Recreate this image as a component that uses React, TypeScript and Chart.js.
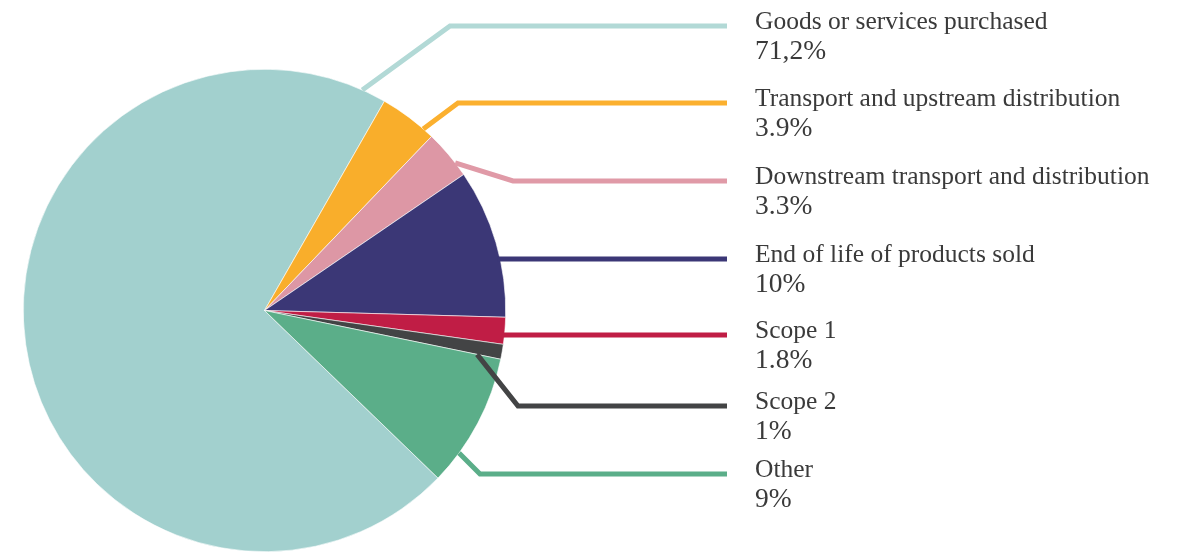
import React, { useEffect, useRef } from "react";
import { Chart, registerables } from "chart.js";

Chart.register(...registerables);

const CATEGORIES = [
  "Goods or services purchased",
  "Transport and upstream distribution",
  "Downstream transport and distribution",
  "End of life of products sold",
  "Scope 1",
  "Scope 2",
  "Other",
];
const VALUES = [71.2, 3.9, 3.3, 10, 1.8, 1, 9];
const VALUE_LABELS = ["71,2%", "3.9%", "3.3%", "10%", "1.8%", "1%", "9%"];
const COLORS = ["#a2d0ce", "#f9ae2b", "#dd97a5", "#3b3776", "#c01d45", "#434445", "#5bae89"];
const LINE_COLORS = ["#b2d9d6", "#fbb02f", "#e09aa7", "#3b3776", "#c01d45", "#434445", "#5bae89"];

// layout of leader lines / labels (pixels in canvas)
const LABEL_Y = [26, 103, 181, 259, 335, 406, 474];
const ELBOW_X: (number | null)[] = [450, 458, 513, null, null, 518, 480];
const START_FRAC = [0.977, 0.81, 0.71, 0.6, 0.5, 1.0, 0.76];
const START_RAD = [1.0, 1.0, 1.0, 1.0, 1.0, 0.9, 1.0];
const LINE_END_X = 727;
const TEXT_X = 755;

const leaderPlugin = {
  id: "leaders",
  afterDatasetsDraw(chart: any) {
    const ctx = chart.ctx as CanvasRenderingContext2D;
    const meta = chart.getDatasetMeta(0);
    ctx.save();
    meta.data.forEach((arc: any, i: number) => {
      const p = arc.getProps(["x", "y", "startAngle", "endAngle", "outerRadius"], true);
      const ly = LABEL_Y[i];
      let sx: number, sy: number;
      const ex = ELBOW_X[i];
      if (ex === null) {
        const dy = ly - p.y;
        sx = p.x + Math.sqrt(Math.max(p.outerRadius * p.outerRadius - dy * dy, 0)) - 3;
        sy = ly;
      } else {
        const a = p.startAngle + START_FRAC[i] * (p.endAngle - p.startAngle);
        const r = p.outerRadius * START_RAD[i];
        sx = p.x + Math.cos(a) * r;
        sy = p.y + Math.sin(a) * r;
      }
      ctx.beginPath();
      ctx.strokeStyle = LINE_COLORS[i];
      ctx.lineWidth = 5;
      ctx.lineJoin = "miter";
      ctx.lineCap = "butt";
      ctx.moveTo(sx, sy);
      if (ex !== null) ctx.lineTo(ex, ly);
      ctx.lineTo(LINE_END_X, ly);
      ctx.stroke();

      ctx.fillStyle = "#3a3a3a";
      ctx.textAlign = "left";
      ctx.textBaseline = "alphabetic";
      ctx.font = '25.5px "Liberation Serif", serif';
      ctx.fillText(CATEGORIES[i], TEXT_X, ly + 3);
      ctx.font = '27.5px "Liberation Serif", serif';
      ctx.fillText(VALUE_LABELS[i], TEXT_X, ly + 33);
    });
    ctx.restore();
  },
};

export default function App() {
  const ref = useRef<HTMLCanvasElement | null>(null);
  useEffect(() => {
    document.body.style.margin = "0";
    const canvas = ref.current!;
    const chart = new Chart(canvas, {
      type: "pie",
      data: {
        labels: CATEGORIES,
        datasets: [
          {
            data: VALUES,
            backgroundColor: COLORS,
            borderColor: "#ffffff",
            borderWidth: 0.6,
          },
        ],
      },
      options: {
        responsive: false,
        animation: false,
        rotation: 134,
        layout: { padding: { left: 23, top: 69, right: 676, bottom: 0 } },
        plugins: {
          legend: { display: false },
          tooltip: { enabled: false },
        },
      },
      plugins: [leaderPlugin],
    });
    return () => chart.destroy();
  }, []);
  return (
    <div style={{ width: 1182, height: 552, background: "#fff" }}>
      <canvas ref={ref} width={1182} height={552} />
    </div>
  );
}
